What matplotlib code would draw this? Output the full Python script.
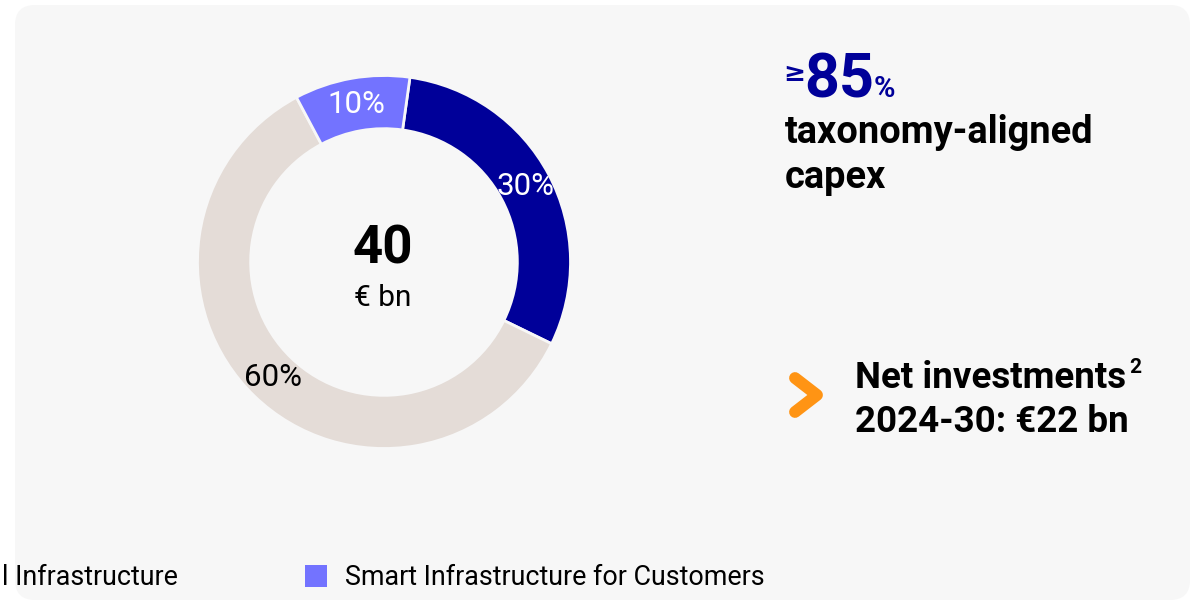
import matplotlib
matplotlib.use("Agg")
import matplotlib.pyplot as plt
from matplotlib.patches import FancyBboxPatch, Rectangle

plt.rcParams['font.family'] = ['Roboto', 'DejaVu Sans']

# data
segments = ['Segment A', 'Segment B', 'Smart Infrastructure for Customers']
shares = [30, 60, 10]
colors = ['#000099', '#E4DCD7', '#7373FF']
label_colors = ['white', 'black', 'white']
total_value = '40'
total_unit = '€ bn'
legend_left_text = 'l Infrastructure'
legend_right_text = 'Smart Infrastructure for Customers'

W, H = 1195, 605
fig = plt.figure(figsize=(W / 100, H / 100), dpi=100)
fig.patch.set_facecolor('white')

# overlay axes in pixel coordinates
bg = fig.add_axes([0, 0, 1, 1])
bg.set_xlim(0, W)
bg.set_ylim(H, 0)
bg.axis('off')
card = FancyBboxPatch((15, 5), 1175, 595, boxstyle='round,pad=0,rounding_size=20',
                      facecolor='#F7F7F7', edgecolor='none', zorder=0)
bg.add_patch(card)

# donut
cx, cy, r = 384, 262, 186.5
ax = fig.add_axes([(cx - r) / W, (H - cy - r) / H, 2 * r / W, 2 * r / H])
ax.set_facecolor('none')
wedges, texts, autotexts = ax.pie(
    shares, colors=colors, startangle=82, counterclock=False,
    autopct='%d%%', pctdistance=0.86, radius=1,
    wedgeprops=dict(width=0.285, edgecolor='#F7F7F7', linewidth=2),
    textprops=dict(fontsize=22.5, fontweight='normal'))
for t, c in zip(autotexts, label_colors):
    t.set_color(c)
ax.set_xlim(-1, 1)
ax.set_ylim(-1, 1)
ax.set_aspect('equal')
ax.axis('off')

# centre text
bg.text(383, 263, total_value, fontsize=38, fontweight='bold', ha='center', va='baseline')
bg.text(383, 306, total_unit, fontsize=21.5, ha='center', va='baseline')

# right side
bg.text(783, 81, '≥', fontsize=19, fontweight='bold', color='#000099', va='baseline',
        family=['DejaVu Sans'])
bg.text(804, 97, '85', fontsize=44, fontweight='bold', color='#000099', va='baseline')
bg.text(874, 97, '%', fontsize=21, fontweight='bold', color='#000099', va='baseline')
bg.text(785, 143, 'taxonomy-aligned', fontsize=27.4, fontweight='bold', va='baseline')
bg.text(785, 188, 'capex', fontsize=27.4, fontweight='bold', va='baseline')

bg.plot([795, 817, 795], [378, 395, 412], color='#FF9414', lw=8.5,
        solid_capstyle='round', solid_joinstyle='round')
bg.text(855, 388, 'Net investments', fontsize=26.5, fontweight='bold', va='baseline')
bg.text(1129, 373, '2', fontsize=15, fontweight='bold', va='baseline')
bg.text(855, 432, '2024-30: €22 bn', fontsize=26.5, fontweight='bold', va='baseline')

# legend row
bg.text(2, 585, legend_left_text, fontsize=19.4, va='baseline')
bg.add_patch(Rectangle((305, 565), 22, 22, facecolor=colors[2], edgecolor='none'))
bg.text(345, 585, legend_right_text, fontsize=19.4, va='baseline')

fig.savefig('out.png', dpi=100)
